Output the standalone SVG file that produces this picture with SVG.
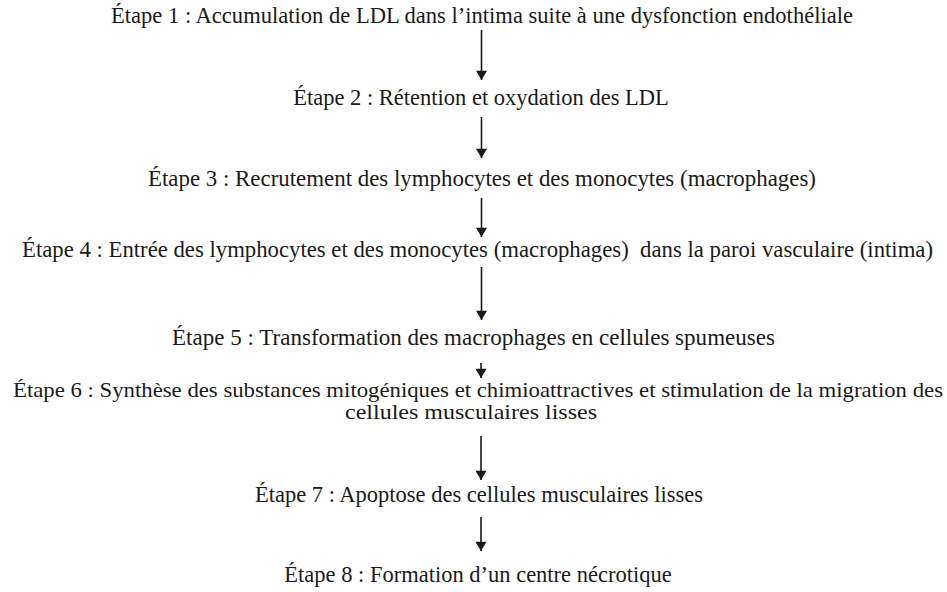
<svg xmlns="http://www.w3.org/2000/svg" width="947" height="592" viewBox="0 0 947 592">
  <style>
    .t { font-family: "Liberation Serif", "Times New Roman", serif; font-size: 22.5px; fill: #1a1a1a; text-anchor: middle; white-space: pre; }
    .s { font-size: 21.5px; }
    .c { stroke: #1a1a1a; stroke-width: 1.6; fill: none; marker-end: url(#ah); }
  </style>
  <defs>
    <marker id="ah" viewBox="0 0 10 12" refX="10" refY="6" markerWidth="12" markerHeight="11" markerUnits="userSpaceOnUse" orient="auto">
      <path d="M0,0 L10,6 L0,12 Z" fill="#1a1a1a"/>
    </marker>
  </defs>
  <rect width="947" height="592" fill="#ffffff"/>
  <g id="step1"><text class="t" x="482" y="23" textLength="742" lengthAdjust="spacingAndGlyphs">Étape 1 : Accumulation de LDL dans l’intima suite à une dysfonction endothéliale</text></g>
  <g id="step2"><text class="t" x="481" y="105">Étape 2 : Rétention et oxydation des LDL</text></g>
  <g id="step3"><text class="t" x="482" y="186" textLength="668" lengthAdjust="spacingAndGlyphs">Étape 3 : Recrutement des lymphocytes et des monocytes (macrophages)</text></g>
  <g id="step4"><text class="t" x="477.5" y="257" textLength="911" lengthAdjust="spacingAndGlyphs">Étape 4 : Entrée des lymphocytes et des monocytes (macrophages)  dans la paroi vasculaire (intima)</text></g>
  <g id="step5"><text class="t" x="473.5" y="345" textLength="603" lengthAdjust="spacingAndGlyphs">Étape 5 : Transformation des macrophages en cellules spumeuses</text></g>
  <g id="step6">
    <text class="t s" x="478" y="397" textLength="930" lengthAdjust="spacingAndGlyphs">Étape 6 : Synthèse des substances mitogéniques et chimioattractives et stimulation de la migration des</text>
    <text class="t s" x="471" y="419" textLength="252" lengthAdjust="spacingAndGlyphs">cellules musculaires lisses</text>
  </g>
  <g id="step7"><text class="t" x="479" y="502">Étape 7 : Apoptose des cellules musculaires lisses</text></g>
  <g id="step8"><text class="t" x="478" y="582">Étape 8 : Formation d’un centre nécrotique</text></g>
  <g id="connectors">
    <line class="c" x1="481.5" y1="30" x2="481.5" y2="80"/>
    <line class="c" x1="481.5" y1="117" x2="481.5" y2="158"/>
    <line class="c" x1="481.5" y1="198" x2="481.5" y2="237"/>
    <line class="c" x1="481.5" y1="267" x2="481.5" y2="320"/>
    <line class="c" x1="481" y1="363" x2="481" y2="378"/>
    <line class="c" x1="481" y1="436" x2="481" y2="480"/>
    <line class="c" x1="481" y1="517" x2="481" y2="551"/>
  </g>
</svg>
